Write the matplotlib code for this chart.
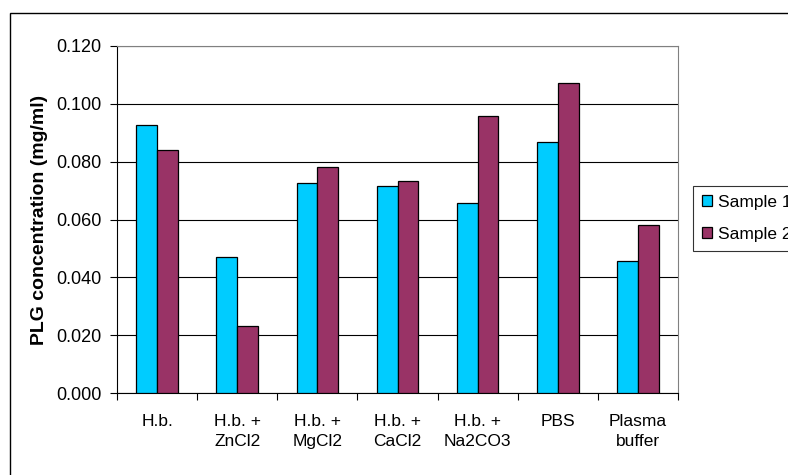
import matplotlib.pyplot as plt
import numpy as np
from matplotlib.patches import Rectangle

plt.rcParams['font.family'] = ['Liberation Sans', 'DejaVu Sans']

categories = ['H.b.', 'H.b. +\nZnCl2', 'H.b. +\nMgCl2', 'H.b. +\nCaCl2',
              'H.b. +\nNa2CO3', 'PBS', 'Plasma\nbuffer']
sample1 = [0.0927, 0.0469, 0.0727, 0.0716, 0.0658, 0.0867, 0.0457]
sample2 = [0.0839, 0.0232, 0.0780, 0.0732, 0.0958, 0.1071, 0.0581]
series_names = ['Sample 1', 'Sample 2']
colors = ['#00CCFF', '#993366']

W, H = 788, 475
fig = plt.figure(figsize=(W / 100, H / 100), dpi=100)
ax = fig.add_axes([117 / W, 1 - 393 / H, (678 - 117) / W, (393 - 46) / H])

x = np.arange(len(categories))
bw = 0.26
b1 = ax.bar(x - bw / 2, sample1, bw, color=colors[0], edgecolor='black', linewidth=0.9,
            label=series_names[0], zorder=3)
b2 = ax.bar(x + bw / 2, sample2, bw, color=colors[1], edgecolor='black', linewidth=0.9,
            label=series_names[1], zorder=3)

ax.set_xlim(-0.5, len(categories) - 0.5)
ax.set_ylim(0, 0.12)
yt = np.arange(0, 0.121, 0.02)
ax.set_yticks(yt)
ax.set_yticklabels(['%.3f' % v for v in yt], fontsize=13)
ax.yaxis.grid(True, color='black', linewidth=0.8, zorder=0)
ax.set_axisbelow(True)

ax.set_xticks(x)
ax.set_xticklabels(categories, fontsize=12.5, linespacing=1.45)
ax.tick_params(axis='x', length=0, pad=15)
ax.set_xticks(np.arange(-0.5, len(categories)), minor=True)
ax.tick_params(axis='x', which='minor', length=5, width=0.8, direction='out')
ax.tick_params(axis='y', length=5, width=0.8, direction='out', pad=6)

for side in ['top', 'right']:
    ax.spines[side].set_color('#808080')
for side in ['left', 'bottom']:
    ax.spines[side].set_color('black')

ax.set_ylabel('PLG concentration (mg/ml)', fontsize=14, fontweight='bold', labelpad=6)

# legend sits partly past the right edge, as in the original
leg = fig.legend(handles=[b1, b2], loc='upper left',
                 bbox_to_anchor=(693 / W, 1 - 186 / H), fontsize=12.5,
                 frameon=True, fancybox=False, edgecolor='black',
                 handlelength=0.6, handleheight=0.6, handletextpad=0.35,
                 borderpad=0.5, labelspacing=1.0, borderaxespad=0)
leg.get_frame().set_linewidth(0.8)

fig.add_artist(Rectangle((10 / W, -0.2), 1.2, 1.2 - 13 / H, transform=fig.transFigure,
                         fill=False, edgecolor='black', linewidth=1.0))

fig.savefig('out.png', dpi=100)
